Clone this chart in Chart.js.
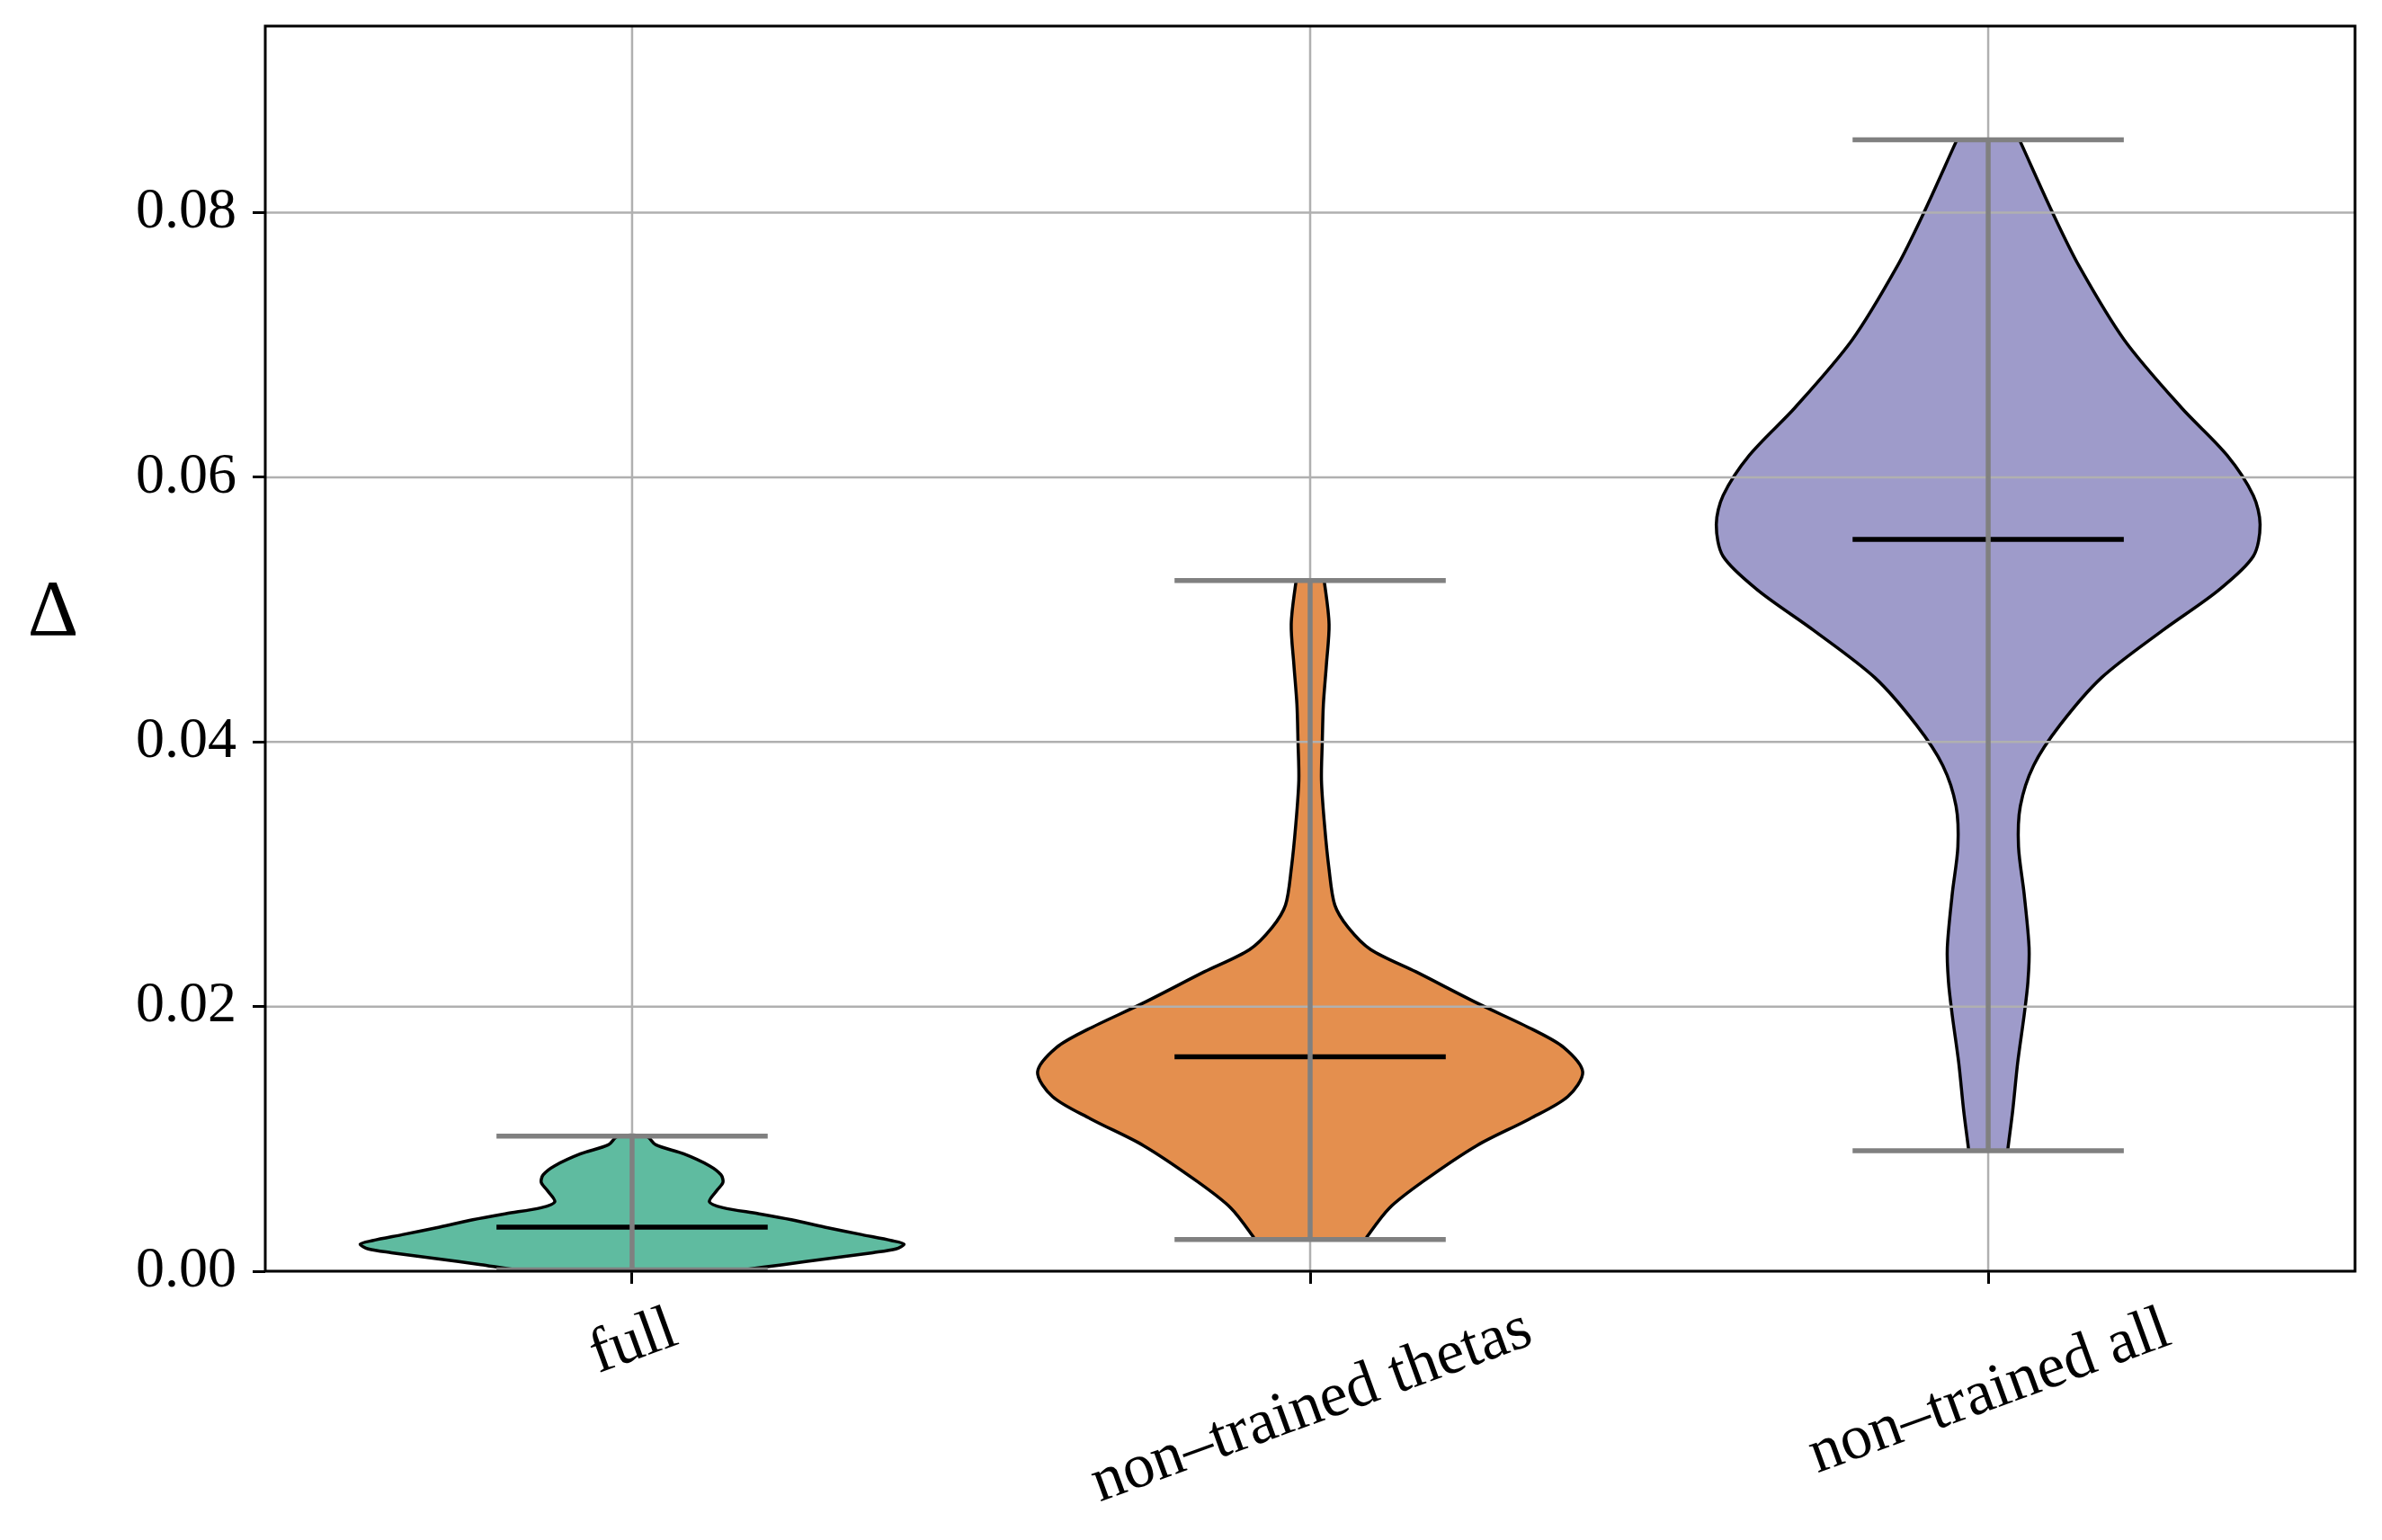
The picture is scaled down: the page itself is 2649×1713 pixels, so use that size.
<!DOCTYPE html>
<html><head><meta charset="utf-8">
<script src="https://cdn.jsdelivr.net/npm/chart.js@4.4.0/dist/chart.umd.min.js"></script>
<style>html,body{margin:0;padding:0;background:#fff}canvas{display:block}</style>
</head><body>
<canvas id="c" width="2649" height="1713"></canvas>
<script>
// ---- data ----
const categories = ['full', 'non\u2013trained thetas', 'non\u2013trained all'];
const positions = [1, 2, 3];
const yTicks = [0, 0.02, 0.04, 0.06, 0.08];
const yTickLabels = ['0.00', '0.02', '0.04', '0.06', '0.08'];
const yLabel = '\u0394';

const mins = [0.0001, 0.0024, 0.0091];
const maxs = [0.0102, 0.0522, 0.0855];
const medians = [0.00333, 0.0162, 0.0553];

// violin outlines: value along y, half-width of the density (x units)
const fullVals = [0.0001, 0.0005, 0.00095, 0.0014, 0.00168, 0.00204, 0.00231, 0.00276, 0.00333, 0.00389, 0.00435, 0.0048, 0.00525, 0.00616, 0.00672, 0.00729, 0.00797, 0.00887, 0.00955, 0.0102];
const fullHalf = [0.164, 0.223, 0.289, 0.355, 0.389, 0.401, 0.383, 0.339, 0.284, 0.235, 0.186, 0.134, 0.114, 0.126, 0.134, 0.131, 0.114, 0.076, 0.035, 0.021];

const thetasVals = [0.0024, 0.00259, 0.00478, 0.0068, 0.0095, 0.01152, 0.0132, 0.01506, 0.01691, 0.01825, 0.02027, 0.02263, 0.02431, 0.026, 0.02768, 0.03037, 0.03374, 0.0371, 0.04, 0.04283, 0.04586, 0.04889, 0.05199, 0.0522];
const thetasHalf = [0.083, 0.0837, 0.117, 0.167, 0.246, 0.324, 0.380, 0.402, 0.374, 0.329, 0.246, 0.156, 0.0893, 0.0558, 0.0363, 0.0279, 0.0212, 0.0167, 0.0179, 0.0195, 0.024, 0.0279, 0.0212, 0.019];

const allVals = [0.0091, 0.00923, 0.0122, 0.01577, 0.01934, 0.02189, 0.02444, 0.02852, 0.03209, 0.03515, 0.03822, 0.04128, 0.04485, 0.04842, 0.05148, 0.05403, 0.05643, 0.05862, 0.06168, 0.06526, 0.07036, 0.07597, 0.08, 0.08536, 0.0855];
const allHalf = [0.029, 0.029, 0.0363, 0.0435, 0.053, 0.0586, 0.0603, 0.053, 0.0447, 0.0474, 0.067, 0.106, 0.167, 0.257, 0.340, 0.391, 0.401, 0.391, 0.352, 0.285, 0.201, 0.134, 0.0949, 0.0474, 0.046];

// ---- styles ----
const fillColors = ['rgb(95,187,160)', 'rgb(228,143,78)', 'rgb(158,155,202)'];
const capHalf = 0.2;
const FONT = '"Liberation Serif", "Times New Roman", serif';

function violinPoints(pos, vals, half) {
  const right = vals.map((v, i) => ({x: pos + half[i], y: v}));
  const left = vals.map((v, i) => ({x: pos - half[i], y: v})).reverse();
  const pts = right.concat(left);
  pts.push({x: pts[0].x, y: pts[0].y});
  return pts;
}

const violinVals = [fullVals, thetasVals, allVals];
const violinHalf = [fullHalf, thetasHalf, allHalf];

const datasets = [];
positions.forEach((p, i) => {
  datasets.push({
    kind: 'violin', order: 10,
    data: violinPoints(p, violinVals[i], violinHalf[i]),
    showLine: true, fill: 'shape', backgroundColor: fillColors[i],
    borderColor: '#000', borderWidth: 3.5, tension: 0.3, pointRadius: 0,
    borderJoinStyle: 'round'
  });
  datasets.push({
    kind: 'ann', order: 3,
    data: [{x: p - capHalf, y: medians[i]}, {x: p + capHalf, y: medians[i]}],
    showLine: true, borderColor: '#000', borderWidth: 5.5, pointRadius: 0, borderCapStyle: 'butt'
  });
  datasets.push({
    kind: 'ann', order: 2,
    data: [{x: p - capHalf, y: maxs[i]}, {x: p + capHalf, y: maxs[i]}],
    showLine: true, borderColor: '#808080', borderWidth: 5.5, pointRadius: 0, borderCapStyle: 'butt'
  });
  datasets.push({
    kind: 'ann', order: 2,
    data: [{x: p - capHalf, y: mins[i]}, {x: p + capHalf, y: mins[i]}],
    showLine: true, borderColor: '#808080', borderWidth: 5.5, pointRadius: 0, borderCapStyle: 'butt'
  });
  datasets.push({
    kind: 'ann', order: 1,
    data: [{x: p, y: mins[i]}, {x: p, y: maxs[i]}],
    showLine: true, borderColor: '#808080', borderWidth: 5.5, pointRadius: 0, borderCapStyle: 'butt'
  });
});

function drawGrid(chart) {
  const {ctx, chartArea: a, scales: {x, y}} = chart;
  ctx.save();
  ctx.strokeStyle = '#b0b0b0';
  ctx.lineWidth = 2.5;
  ctx.beginPath();
  yTicks.forEach(v => { const py = y.getPixelForValue(v); ctx.moveTo(a.left, py); ctx.lineTo(a.right, py); });
  positions.forEach(v => { const px = x.getPixelForValue(v); ctx.moveTo(px, a.top); ctx.lineTo(px, a.bottom); });
  ctx.stroke();
  ctx.restore();
}

const overlay = {
  id: 'overlay',
  beforeDatasetsDraw(chart) { chart.$gridDone = false; },
  beforeDatasetDraw(chart, args) {
    if (!chart.$gridDone && chart.data.datasets[args.index].kind !== 'violin') {
      drawGrid(chart); chart.$gridDone = true;
    }
  },
  afterDatasetsDraw(chart) {
    if (!chart.$gridDone) { drawGrid(chart); chart.$gridDone = true; }
    const {ctx, chartArea: a} = chart;
    ctx.save();
    ctx.strokeStyle = '#000'; ctx.lineWidth = 3;
    ctx.strokeRect(a.left, a.top, a.right - a.left, a.bottom - a.top);
    ctx.restore();
  },
  afterDraw(chart) {
    const {ctx, chartArea: a, scales: {x}} = chart;
    const th = 20 * Math.PI / 180;
    ctx.save();
    ctx.fillStyle = '#000';
    ctx.font = '70px ' + FONT;
    categories.forEach((lab, i) => {
      const px = x.getPixelForValue(positions[i]);
      const m = ctx.measureText(lab);
      const w = m.width, asc = m.fontBoundingBoxAscent, desc = m.fontBoundingBoxDescent;
      const H = w * Math.sin(th) + (asc + desc) * Math.cos(th);
      const cy = a.bottom + 14 + 8 + H / 2;
      ctx.save();
      ctx.translate(px, cy);
      ctx.rotate(-th);
      ctx.textAlign = 'center';
      ctx.textBaseline = 'alphabetic';
      ctx.fillText(lab, 0, (asc - desc) / 2);
      ctx.restore();
    });
    ctx.font = '88px ' + FONT;
    ctx.textAlign = 'center';
    ctx.textBaseline = 'alphabetic';
    ctx.fillText(yLabel, 59, 706);
    ctx.restore();
  }
};

new Chart(document.getElementById('c'), {
  type: 'scatter',
  data: {datasets},
  plugins: [overlay],
  options: {
    responsive: false,
    animation: false,
    layout: {padding: {top: 29, right: 30, left: 0, bottom: 0}},
    plugins: {legend: {display: false}, tooltip: {enabled: false}},
    scales: {
      x: {
        type: 'linear', min: 0.459, max: 3.541,
        afterBuildTicks: s => { s.ticks = positions.map(v => ({value: v})); },
        afterFit: s => { s.height = 299; s.paddingLeft = 0; s.paddingRight = 0; },
        ticks: {display: false},
        border: {display: false},
        grid: {drawOnChartArea: false, drawTicks: true, tickLength: 14, tickColor: '#000', tickWidth: 3}
      },
      y: {
        type: 'linear', min: 0, max: 0.0941,
        afterBuildTicks: s => { s.ticks = yTicks.map(v => ({value: v})); },
        afterFit: s => { s.width = 295; s.paddingTop = 0; s.paddingBottom = 0; },
        ticks: {
          color: '#000', padding: 18,
          font: {family: FONT, size: 64},
          callback: (v) => { const k = yTicks.indexOf(v); return k >= 0 ? yTickLabels[k] : ''; }
        },
        border: {display: false},
        grid: {drawOnChartArea: false, drawTicks: true, tickLength: 14, tickColor: '#000', tickWidth: 3}
      }
    }
  }
});
</script>
</body></html>
